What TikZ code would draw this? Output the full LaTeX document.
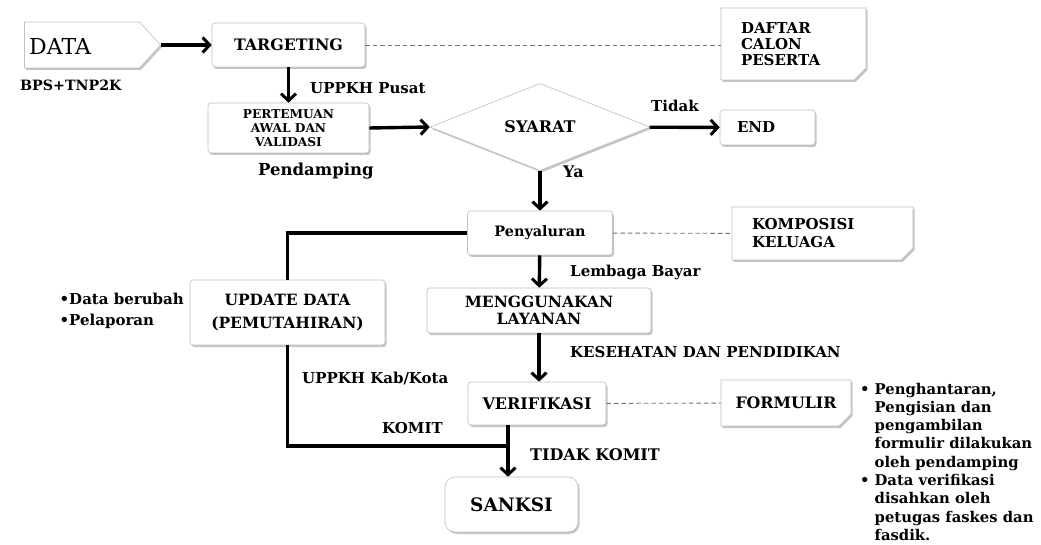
\documentclass[tikz,border=0pt]{standalone}
\usepackage{fontspec}
\setmainfont{DejaVu Serif}
\usetikzlibrary{arrows.meta,shapes.geometric,shapes.misc,shapes.symbols,shadows}
\newcommand\fsz[1]{\fontsize{#1}{#1}\selectfont\bfseries}
\newcommand\flab{\fontsize{15}{18}\selectfont\bfseries}
\begin{document}
\begin{tikzpicture}[x=1pt,y=-1pt,
  shd/.style={drop shadow={shadow xshift=1.5pt,shadow yshift=-2pt,fill=black!45,opacity=0.5}},
  box/.style={draw=black!25,line width=0.6pt,fill=white,rounded corners=3pt,shd,inner sep=2pt,align=center},
  snip/.style={draw=black!25,line width=0.6pt,fill=white,shd,chamfered rectangle,chamfered rectangle corners=south east,chamfered rectangle xsep=6pt,chamfered rectangle ysep=6pt,align=left},
  arr/.style={line width=3.4pt,-{Straight Barb[length=7pt,width=15pt,line width=3pt]}},
  conn/.style={line width=3.4pt},
  dsh/.style={draw=black!55,line width=0.9pt,dash pattern=on 4.5pt off 3pt},
  lab/.style={inner sep=0pt,font=\flab}]
\useasboundingbox[fill=white] (0,0) rectangle (1041,545);

% nodes
\node[signal,signal to=east,signal pointer angle=95,draw=black!25,line width=0.6pt,fill=white,shd,
      minimum width=136pt,minimum height=46pt,inner sep=0pt] (data) at (82,45) {};
\node[inner sep=0pt,anchor=west,font=\fontsize{22}{24}\selectfont] (datat) at (29,46) {DATA};
\node[box,minimum width=153pt,minimum height=44pt,font=\fsz{15.8}] (targ) at (288.5,45) {TARGETING};
\node[snip,minimum width=133pt,minimum height=72pt,text width=105pt,inner xsep=14pt,font=\fontsize{15}{16}\selectfont\bfseries] (daftar) at (793.5,44) {DAFTAR\\CALON\\PESERTA};
\node[box,minimum width=161pt,minimum height=50pt,font=\fontsize{12.2}{14}\selectfont\bfseries] (pert) at (288.5,128) {PERTEMUAN\\AWAL DAN\\VALIDASI};
\node[diamond,draw=black!25,line width=0.6pt,fill=white,shd,minimum width=220pt,minimum height=87pt,inner sep=0pt,font=\fsz{16}] (syarat) at (540,127) {SYARAT};
\node[box,minimum width=95pt,minimum height=35pt,text width=61pt,align=left,font=\fsz{15}] (endn) at (767.5,127.5) {END};
\node[box,minimum width=145pt,minimum height=44pt,font=\fsz{14.4}] (peny) at (540,233) {Penyaluran};
\node[snip,minimum width=171pt,minimum height=53pt,text width=141pt,inner xsep=14pt,font=\fontsize{15}{18}\selectfont\bfseries] (komp) at (822.5,233.5) {KOMPOSISI\\KELUAGA};
\node[box,minimum width=195pt,minimum height=65pt,font=\fontsize{15.5}{18}\selectfont\bfseries,align=center] (upd) at (287.5,312.5) {UPDATE DATA\\[5pt](PEMUTAHIRAN)};
\node[box,minimum width=224pt,minimum height=45pt,font=\fontsize{15.5}{17}\selectfont\bfseries] (meng) at (539,310.5) {MENGGUNAKAN\\LAYANAN};
\node[box,minimum width=138pt,minimum height=43pt,font=\fsz{16}] (verif) at (537,403.5) {VERIFIKASI};
\node[snip,minimum width=130pt,minimum height=46pt,align=center,font=\fsz{15.8}] (form) at (786,403) {FORMULIR};
\node[box,rounded corners=10pt,minimum width=133pt,minimum height=55pt,font=\fsz{18.5}] (sanksi) at (511.5,504.5) {SANKSI};

% labels
\node[lab,anchor=west,font=\fsz{14.2}] (bps) at (20,85) {BPS+TNP2K};
\node[lab,anchor=west] (uppus) at (310,88) {UPPKH Pusat};
\node[lab,anchor=west,font=\fsz{16.5}] (pend) at (258,171) {Pendamping};
\node[lab,anchor=west] (tidak) at (651,106) {Tidak};
\node[lab,anchor=west,font=\fsz{16}] (ya) at (563,172) {Ya};
\node[lab,anchor=west] (lemb) at (570,272) {Lembaga Bayar};
\node[lab,anchor=west] (kes) at (570,352) {KESEHATAN DAN PENDIDIKAN};
\node[lab,anchor=west] (upkab) at (302,378) {UPPKH Kab/Kota};
\node[lab,anchor=west] (komit) at (382,428) {KOMIT};
\node[lab,anchor=west,font=\fsz{16}] (tkomit) at (530,455) {TIDAK KOMIT};
\node[lab,anchor=east,align=left,font=\fontsize{15}{21}\selectfont\bfseries] (lst) at (184,311) {•Data berubah\\•Pelaporan};
\node[lab,anchor=north west,align=left,font=\fontsize{14.8}{18.3}\selectfont\bfseries] (notes) at (860,381)
  {\begin{tabular}{@{}l@{\hspace{5pt}}l@{}}
   • & Penghantaran,\\
     & Pengisian dan\\
     & pengambilan\\
     & formulir dilakukan\\
     & oleh pendamping\\
   • & Data verifikasi\\
     & disahkan oleh\\
     & petugas faskes dan\\
     & fasdik.
   \end{tabular}};

% connectors
\coordinate (j) at (508,446);
\draw[arr] (data.east) -- (targ.west);
\draw[dsh] (targ.east) -- (targ.east -| daftar.west);
\draw[arr] (targ) -- (pert);
\draw[arr] (pert.east) -- (syarat.west);
\draw[arr] (syarat) -- (endn);
\draw[arr] (syarat) -- (peny);
\draw[dsh] (peny) -- (komp);
\draw[conn] (peny.west) -| (upd.north);
\draw[arr] (peny) -- (meng);
\draw[arr] (meng.south) -- (meng.south |- verif.north);
\draw[dsh] (verif) -- (form);
\draw[conn] (upd.south) |- (j);
\draw[conn] (verif.south -| j) -- (j);
\draw[arr] (j) -- (j |- sanksi.north);
\end{tikzpicture}
\end{document}
